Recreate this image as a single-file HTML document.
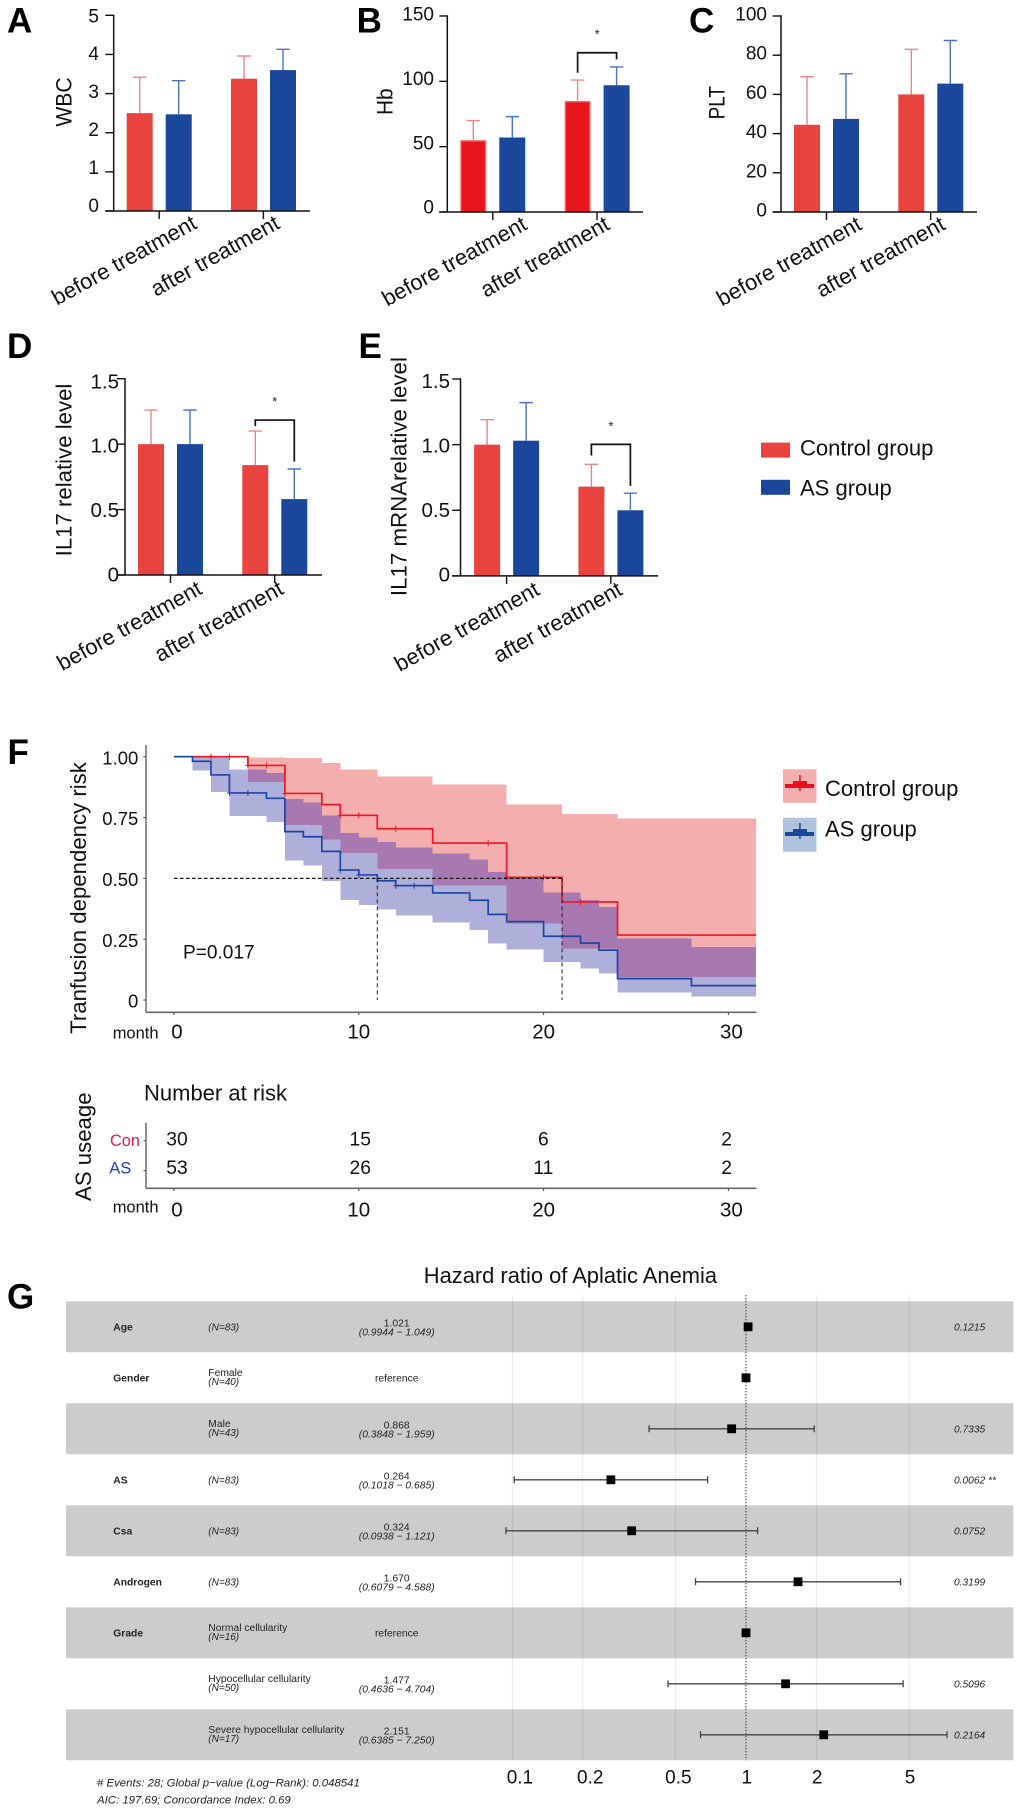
<!DOCTYPE html>
<html lang="en">
<head>
<meta charset="utf-8">
<title>Aplastic anemia figure</title>
<style>
html,body{margin:0;padding:0;background:#fff}
svg{display:block;font-family:"Liberation Sans",Arial,sans-serif}
</style>
</head>
<body>
<svg id="fig" xmlns="http://www.w3.org/2000/svg" width="1020" height="1811" viewBox="0 0 1020 1811">
<rect width="1020" height="1811" fill="#fff"/>
<g font-weight="bold" font-size="35" fill="#000">
<text x="7" y="32.3">A</text>
<text x="356.6" y="32.3">B</text>
<text x="689" y="32.3">C</text>
<text x="7" y="358">D</text>
<text x="358.5" y="358">E</text>
<text x="7.5" y="764">F</text>
<text x="7" y="1308.5">G</text>
</g>
<g>
<rect x="761" y="442.6" width="29" height="15" fill="#e94340"/>
<text x="800" y="455.5" font-size="22" fill="#111">Control group</text>
<rect x="761" y="479.8" width="29" height="15" fill="#1b479b"/>
<text x="800" y="495.5" font-size="22" fill="#111">AS group</text>
</g>
<g>
<rect x="783" y="769.3" width="33.5" height="33.5" fill="#f5aeae"/>
<rect x="785" y="784" width="29" height="4" fill="#e8101c"/>
<rect x="793" y="781" width="14" height="4" fill="#e8101c"/>
<rect x="799.2" y="775" width="1.5" height="16" fill="#e8101c"/>
<text x="825" y="796" font-size="22" fill="#111">Control group</text>
<rect x="783" y="817.7" width="33.5" height="34" fill="#afc4dc"/>
<rect x="785" y="832" width="29" height="4" fill="#1b479b"/>
<rect x="793" y="829" width="14" height="4" fill="#1b479b"/>
<rect x="799.2" y="823" width="1.5" height="16" fill="#1b479b"/>
<text x="825" y="836.7" font-size="22" fill="#111">AS group</text>
</g>
<g id="panels"></g>
<g id="km"></g>
<g id="risk"></g>
<g id="forest"></g>
</svg>
<script>
// ---- bar chart data ----
const categories = ['before treatment', 'after treatment'];
const wbcControl = [2.5, 3.38];
const wbcAS = [2.47, 3.6];
const wbcControlTop = [3.42, 3.96];
const wbcASTop = [3.33, 4.13];
const wbcTicks = [0, 1, 2, 3, 4, 5];
const hbControl = [55, 85];
const hbAS = [57, 97];
const hbControlTop = [70, 101];
const hbASTop = [73, 111];
const hbTicks = [0, 50, 100, 150];
const pltControl = [44.5, 60];
const pltAS = [47.5, 65.5];
const pltControlTop = [69, 83];
const pltASTop = [70.5, 87.5];
const pltTicks = [0, 20, 40, 60, 80, 100];
const il17Control = [1, 0.84];
const il17AS = [1, 0.58];
const il17ControlTop = [1.26, 1.1];
const il17ASTop = [1.26, 0.81];
const il17Ticks = [0, 0.5, 1.0, 1.5];
const il17TickLabels = ['0', '0.5', '1.0', '1.5'];
const mrnaControl = [1, 0.68];
const mrnaAS = [1.03, 0.5];
const mrnaControlTop = [1.19, 0.85];
const mrnaASTop = [1.32, 0.63];
const mrnaTicks = [0, 0.5, 1.0, 1.5];
const mrnaTickLabels = ['0', '0.5', '1.0', '1.5'];

// ---- survival data ----
const redTimes = [0, 4, 6, 8, 9, 11, 14, 18, 21, 24];
const redSurv = [1, 0.964, 0.849, 0.803, 0.759, 0.704, 0.645, 0.504, 0.403, 0.267];
const redUpper = [1, 0.997, 0.995, 0.975, 0.947, 0.918, 0.885, 0.804, 0.764, 0.747];
const redLower = [1, 0.896, 0.72, 0.66, 0.604, 0.538, 0.471, 0.314, 0.211, 0.095];
const redCensor = [2, 3, 4, 5, 6, 9, 10, 12, 17, 18, 20, 22];
const blueTimes = [0, 1, 2, 3, 5, 6, 7, 8, 9, 10, 11, 12, 14, 16, 17, 18, 20, 22, 23, 24, 28];
const blueSurv = [1, 0.981, 0.925, 0.851, 0.829, 0.692, 0.671, 0.611, 0.534, 0.514, 0.49, 0.47, 0.44, 0.41, 0.352, 0.322, 0.262, 0.234, 0.205, 0.088, 0.059];
const blueUpper = [1, 1, 1, 0.948, 0.934, 0.826, 0.811, 0.759, 0.686, 0.667, 0.649, 0.626, 0.603, 0.578, 0.526, 0.503, 0.441, 0.412, 0.382, 0.252, 0.218];
const blueLower = [1, 0.944, 0.855, 0.756, 0.732, 0.574, 0.552, 0.49, 0.412, 0.39, 0.371, 0.347, 0.318, 0.288, 0.232, 0.207, 0.156, 0.13, 0.108, 0.03, 0.015];
const blueCensor = [3, 4, 9, 10, 12, 13];
const kmXTicks = [0, 10, 20, 30];
const kmYTicks = [0, 0.25, 0.5, 0.75, 1];
const kmYTickLabels = ['0', '0.25', '0.50', '0.75', '1.00'];
const medianTimes = [11, 21];
const riskControl = [30, 15, 6, 2];
const riskAS = [53, 26, 11, 2];

// ---- forest data ----
const forestVars = ['Age', 'Gender', '', 'AS', 'Csa', 'Androgen', 'Grade', '', ''];
const forestLevels = ['', 'Female', 'Male', '', '', '', 'Normal cellularity', 'Hypocellular cellularity', 'Severe hypocellular cellularity'];
const forestN = ['(N=83)', '(N=40)', '(N=43)', '(N=83)', '(N=83)', '(N=83)', '(N=16)', '(N=50)', '(N=17)'];
const forestHR = [1.021, 1, 0.868, 0.264, 0.324, 1.67, 1, 1.477, 2.151];
const forestLow = [0.9944, null, 0.3848, 0.1018, 0.0938, 0.6079, null, 0.4636, 0.6385];
const forestHigh = [1.049, null, 1.959, 0.685, 1.121, 4.588, null, 4.704, 7.25];
const forestHRLabels = ['1.021', 'reference', '0.868', '0.264', '0.324', '1.670', 'reference', '1.477', '2.151'];
const forestCILabels = ['(0.9944 \u2212 1.049)', '', '(0.3848 \u2212 1.959)', '(0.1018 \u2212 0.685)', '(0.0938 \u2212 1.121)', '(0.6079 \u2212 4.588)', '', '(0.4636 \u2212 4.704)', '(0.6385 \u2212 7.250)'];
const forestP = ['0.1215', '', '0.7335', '0.0062 **', '0.0752', '0.3199', '', '0.5096', '0.2164'];
const forestTicks = [0.1, 0.2, 0.5, 1, 2, 5];

const NS = 'http://www.w3.org/2000/svg';
function mk(tag, attrs, parent, text) {
  const el = document.createElementNS(NS, tag);
  for (const k in attrs) el.setAttribute(k, attrs[k]);
  if (text !== undefined) el.textContent = text;
  parent.appendChild(el);
  return el;
}
const RED = '#e94340', BLUE = '#1b479b', RED_ERR = '#f08585', BLUE_ERR = '#4a72c4', INK = '#111';

function drawPanel(opt) {
  const root = document.getElementById('panels');
  const g = mk('g', {}, root);
  
  
  const y = v => opt.base - (v / opt.max) * (opt.base - opt.top);
  const offsets = [[0, 39], [104.3, 143.3]];
  categories.forEach((cat, i) => {
    [[opt.control, opt.controlTop, opt.red || RED, RED_ERR, 'control'], [opt.as, opt.asTop, BLUE, BLUE_ERR, 'as']].forEach((s, j) => {
      const left = opt.left + offsets[i][j];
      const cx = left + 13;
      const err = mk('path', {d: 'M' + cx + ' ' + y(s[0][i]) + 'V' + y(s[1][i]) + 'M' + (cx - 6.7) + ' ' + y(s[1][i]) + 'H' + (cx + 6.7), stroke: s[3], 'stroke-width': 1.4, fill: 'none'}, g);
      
      
      const inset = (opt.red && j === 0) ? 0.7 : 0;
      const bar = mk('rect', {x: left + inset, y: y(s[0][i]) + inset, width: 26 - 2 * inset, height: opt.base - y(s[0][i]) - inset, fill: s[2]}, g);
      
      
      if (inset) { bar.setAttribute('stroke', '#f06a6a'); bar.setAttribute('stroke-width', '1.4'); }
    });
    const tx = opt.left + (i === 0 ? 32.5 : 136.7);
    const tick = mk('line', {x1: tx, x2: tx, y1: opt.base, y2: opt.base + 8, stroke: INK, 'stroke-width': 1.4}, g);
    
    
    const ax = tx + opt.labelDx[i], ay = opt.base + opt.labelDy;
    const lab = mk('text', {x: ax, y: ay, 'text-anchor': 'end', 'font-size': 22, fill: INK, transform: 'rotate(-29 ' + ax + ' ' + ay + ')'}, g, cat);
    
    
  });
  const yAxis = mk('line', {x1: opt.axis, x2: opt.axis, y1: opt.top - 0.7, y2: opt.base, stroke: INK, 'stroke-width': 1.5}, g);
  
  
  const xAxis = mk('line', {x1: opt.axisLeft, x2: opt.right, y1: opt.base, y2: opt.base, stroke: INK, 'stroke-width': 1.5}, g);
  
  
  opt.ticks.forEach((t, i) => {
    const tk = mk('line', {x1: opt.axisLeft, x2: opt.axis, y1: y(t), y2: y(t), stroke: INK, 'stroke-width': 1.4}, g);
    
    
    const shift = opt.labShift[0] + (opt.labShift[1] - opt.labShift[0]) * t / opt.max;
    const tl = mk('text', {x: opt.labRight, y: y(t) + shift, 'text-anchor': 'end', 'font-size': opt.labSize, fill: INK}, g, opt.tickLabels ? opt.tickLabels[i] : String(t));
    
    
  });
  const tcx = opt.titleX, tcy = opt.titleY;
  const title = mk('text', {x: tcx, y: tcy, 'text-anchor': 'middle', 'font-size': 22, textLength: opt.titleLen, lengthAdjust: 'spacingAndGlyphs', fill: INK, transform: 'rotate(-90 ' + tcx + ' ' + tcy + ')'}, g, opt.title);
  
  
  if (opt.bracket) {
    const b = opt.bracket;
    const x1 = opt.left + 13 + 104.3, x2 = opt.left + 13 + 143.3;
    const br = mk('path', {d: 'M' + x1 + ' ' + y(b[1]) + 'V' + y(b[0]) + 'H' + x2 + 'V' + y(b[2]), fill: 'none', stroke: INK, 'stroke-width': 1.7}, g);
    
    
    const st = mk('text', {x: (x1 + x2) / 2, y: y(b[0]) - 14, 'text-anchor': 'middle', 'font-size': 13, fill: '#222'}, g, '*');
    
    
  }
}
drawPanel({id: 'wbc', title: 'WBC', titleX: 71.7, titleY: 102, titleLen: 49.3, axis: 113.7, axisLeft: 105.3, right: 310, top: 15.3, base: 211, max: 5, left: 126.7, labRight: 99, labShift: [1, 7], labSize: 19, labelDx: [39, 17.7], labelDy: 16.5, ticks: wbcTicks, control: wbcControl, as: wbcAS, controlTop: wbcControlTop, asTop: wbcASTop});
drawPanel({id: 'hb', title: 'Hb', titleX: 392.7, titleY: 101.7, titleLen: 26.7, axis: 447.3, axisLeft: 439.3, right: 643, top: 16, base: 212, max: 150, left: 460.3, labRight: 434, labShift: [1.7, 4.7], labSize: 19, labelDx: [35.6, 14], labelDy: 16.5, red: '#e8161c', ticks: hbTicks, control: hbControl, as: hbAS, controlTop: hbControlTop, asTop: hbASTop, bracket: [121.9, 106.6, 116.8]});
drawPanel({id: 'plt', title: 'PLT', titleX: 724.3, titleY: 102.7, titleLen: 33.3, axis: 781, axisLeft: 772.7, right: 977, top: 16, base: 212, max: 100, left: 794, labRight: 767, labShift: [4.5, 4.5], labSize: 19, labelDx: [36.6, 16], labelDy: 16.5, ticks: pltTicks, control: pltControl, as: pltAS, controlTop: pltControlTop, asTop: pltASTop});
drawPanel({id: 'il17', title: 'IL17 relative level', titleX: 71.7, titleY: 470, titleLen: 172.7, axis: 125, axisLeft: 116.7, right: 322, top: 378.7, base: 575, max: 1.5, left: 138, labRight: 119, labShift: [6.3, 9.7], labSize: 20.5, labelDx: [33, 10.3], labelDy: 18, ticks: il17Ticks, tickLabels: il17TickLabels, control: il17Control, as: il17AS, controlTop: il17ControlTop, asTop: il17ASTop, bracket: [1.184, 1.138, 0.866]});
drawPanel({id: 'il17-mrna', title: 'IL17 mRNArelative level', titleX: 406.5, titleY: 476.6, titleLen: 239, axis: 460.5, axisLeft: 452.2, right: 658.2, top: 379, base: 575.9, max: 1.5, left: 474.1, labRight: 450, labShift: [5.7, 8.8], labSize: 20.5, labelDx: [34.4, 13], labelDy: 18, ticks: mrnaTicks, tickLabels: mrnaTickLabels, control: mrnaControl, as: mrnaAS, controlTop: mrnaControlTop, asTop: mrnaASTop, bracket: [1.002, 0.917, 0.686]});

// ---- survival plot ----
const kmX = t => 174 + t * 18.48;
const kmY = v => 1000 - v * 243.3;
const KM_END = 31.5;
function stepPath(times, vals) {
  let d = 'M' + kmX(times[0]) + ' ' + kmY(vals[0]);
  for (let i = 1; i < times.length; i++) d += 'H' + kmX(times[i]) + 'V' + kmY(vals[i]);
  return d + 'H' + kmX(KM_END);
}
function valueAt(times, vals, t) {
  let v = vals[0];
  for (let i = 0; i < times.length; i++) if (times[i] <= t) v = vals[i];
  return v;
}
function drawKM() {
  const g = document.getElementById('km');
  
  
  const bands = mk('g', {'shape-rendering': 'crispEdges'}, g);
  
  
  redTimes.forEach((t, i) => {
    const e = i + 1 < redTimes.length ? redTimes[i + 1] : KM_END;
    const r = mk('rect', {x: kmX(t), y: kmY(redUpper[i]), width: kmX(e) - kmX(t), height: kmY(redLower[i]) - kmY(redUpper[i]), fill: '#f5aeae'}, bands);
    
    
  });
  blueTimes.forEach((t, i) => {
    const e = i + 1 < blueTimes.length ? blueTimes[i + 1] : KM_END;
    const r = mk('rect', {x: kmX(t), y: kmY(blueUpper[i]), width: kmX(e) - kmX(t), height: kmY(blueLower[i]) - kmY(blueUpper[i]), fill: '#aeb0d9'}, bands);
    
    
  });
  const cuts = Array.from(new Set(redTimes.concat(blueTimes))).sort((a, b) => a - b);
  cuts.forEach((t, i) => {
    const e = i + 1 < cuts.length ? cuts[i + 1] : KM_END;
    const top = Math.min(valueAt(redTimes, redUpper, t), valueAt(blueTimes, blueUpper, t));
    const bottom = Math.max(valueAt(redTimes, redLower, t), valueAt(blueTimes, blueLower, t));
    if (top > bottom) {
      const r = mk('rect', {x: kmX(t), y: kmY(top), width: kmX(e) - kmX(t), height: kmY(bottom) - kmY(top), fill: '#a779b0'}, bands);
      
      
    }
  });
  const red = mk('path', {d: stepPath(redTimes, redSurv), fill: 'none', stroke: '#ee1620', 'stroke-width': 1.7}, g);
  
  
  const blue = mk('path', {d: stepPath(blueTimes, blueSurv), fill: 'none', stroke: '#1d45a5', 'stroke-width': 1.7}, g);
  
  
  redCensor.forEach(t => {
    const v = valueAt(redTimes, redSurv, t);
    const m = mk('path', {d: 'M' + (kmX(t) - 2.5) + ' ' + kmY(v) + 'h5M' + kmX(t) + ' ' + (kmY(v) - 3) + 'v6', stroke: '#ee1620', 'stroke-width': 1, fill: 'none'}, g);
    
    
  });
  blueCensor.forEach(t => {
    const v = valueAt(blueTimes, blueSurv, t);
    const m = mk('path', {d: 'M' + (kmX(t) - 2.5) + ' ' + kmY(v) + 'h5M' + kmX(t) + ' ' + (kmY(v) - 3) + 'v6', stroke: '#1d45a5', 'stroke-width': 1, fill: 'none'}, g);
    
    
  });
  const h = mk('line', {x1: kmX(0), x2: kmX(medianTimes[1]), y1: kmY(0.5), y2: kmY(0.5), stroke: '#111', 'stroke-width': 1.2, 'stroke-dasharray': '3.5 2.5'}, g);
  
  
  medianTimes.forEach(t => {
    const v = mk('line', {x1: kmX(t), x2: kmX(t), y1: kmY(0.5), y2: kmY(0), stroke: '#222', 'stroke-width': 1, 'stroke-dasharray': '4 3'}, g);
    
    
  });
  const ya = mk('line', {x1: 146, x2: 146, y1: 745, y2: 1012.3, stroke: '#555', 'stroke-width': 1.3}, g);
  
  
  const xa = mk('line', {x1: 146, x2: 756.5, y1: 1012.3, y2: 1012.3, stroke: '#666', 'stroke-width': 1.6}, g);
  
  
  kmYTicks.forEach((v, i) => {
    const tk = mk('line', {x1: 143.3, x2: 146, y1: kmY(v), y2: kmY(v), stroke: '#444', 'stroke-width': 1}, g);
    
    
    const tl = mk('text', {x: 138.3, y: kmY(v) + 7.7, 'text-anchor': 'end', 'font-size': 18.5, fill: INK}, g, kmYTickLabels[i]);
    
    
  });
  kmXTicks.forEach(t => {
    const tk = mk('line', {x1: kmX(t), x2: kmX(t), y1: 1012.3, y2: 1015, stroke: '#444', 'stroke-width': 1}, g);
    
    
    const tl = mk('text', {x: kmX(t) + (t === 0 || t === 30 ? 3 : 0), y: 1038.5, 'text-anchor': 'middle', 'font-size': 20.5, fill: INK}, g, String(t));
    
    
  });
  const mo = mk('text', {x: 112.7, y: 1038.3, 'font-size': 16.5, fill: INK}, g, 'month');
  
  
  const yt = mk('text', {x: 86, y: 898, 'text-anchor': 'middle', 'font-size': 22.2, fill: INK, transform: 'rotate(-90 86 898)'}, g, 'Tranfusion dependency risk');
  
  
  const p = mk('text', {x: 183, y: 958.3, 'font-size': 19.1, fill: INK}, g, 'P=0.017');
  
  
}
drawKM();

function drawRisk() {
  const g = document.getElementById('risk');
  
  
  const riskX = t => 177 + 18.32 * t;
  const t0 = mk('text', {x: 144, y: 1100.7, 'font-size': 22, fill: INK}, g, 'Number at risk');
  
  
  const ya = mk('line', {x1: 146, x2: 146, y1: 1122.7, y2: 1188.3, stroke: '#555', 'stroke-width': 1.3}, g);
  
  
  const xa = mk('line', {x1: 146, x2: 756.5, y1: 1188.3, y2: 1188.3, stroke: '#666', 'stroke-width': 1.6}, g);
  
  
  const tk1 = mk('line', {x1: 143.5, x2: 146, y1: 1140.7, y2: 1140.7, stroke: '#444', 'stroke-width': 1}, g);
  
  
  const tk2 = mk('line', {x1: 143.5, x2: 146, y1: 1170.7, y2: 1170.7, stroke: '#444', 'stroke-width': 1}, g);
  
  
  const c = mk('text', {x: 110, y: 1146, 'font-size': 16.3, fill: '#e8174a'}, g, 'Con');
  
  
  const a = mk('text', {x: 109.3, y: 1173.3, 'font-size': 16.5, fill: '#2040a8'}, g, 'AS');
  
  
  kmXTicks.forEach((t, i) => {
    const n1 = mk('text', {x: riskX(t), y: 1145.7, 'text-anchor': 'middle', 'font-size': 19.3, fill: INK}, g, String(riskControl[i]));
    
    
    const n2 = mk('text', {x: riskX(t), y: 1174, 'text-anchor': 'middle', 'font-size': 19.3, fill: INK}, g, String(riskAS[i]));
    
    
    const tk = mk('line', {x1: kmX(t), x2: kmX(t), y1: 1188.3, y2: 1191, stroke: '#444', 'stroke-width': 1}, g);
    
    
    const tl = mk('text', {x: kmX(t) + (t === 0 || t === 30 ? 3 : 0), y: 1216.7, 'text-anchor': 'middle', 'font-size': 20.5, fill: INK}, g, String(t));
    
    
  });
  const mo = mk('text', {x: 112.7, y: 1212.3, 'font-size': 16.5, fill: INK}, g, 'month');
  
  
  const yt = mk('text', {x: 91, y: 1146.7, 'text-anchor': 'middle', 'font-size': 22.2, fill: INK, transform: 'rotate(-90 91 1146.7)'}, g, 'AS useage');
  
  
}
drawRisk();

// ---- forest plot ----
const fX = v => 746 + 233.6 * Math.log10(v);
function drawForest() {
  const g = document.getElementById('forest');
  
  
  const TOP = 1301.3, RH = 51;
  const title = mk('text', {x: 570.4, y: 1283, 'text-anchor': 'middle', 'font-size': 21.9, fill: INK}, g, 'Hazard ratio of Aplatic Anemia');
  
  
  forestHR.forEach((hr, i) => {
    if (i % 2 === 0) {
      const band = mk('rect', {x: 66, y: TOP + i * RH, width: 947.3, height: RH, fill: '#cccccc'}, g);
      
      
    }
  });
  forestTicks.forEach(t => {
    const gl = mk('line', {x1: fX(t), x2: fX(t), y1: 1295, y2: TOP + 9 * RH, stroke: '#000', 'stroke-width': 0.9, opacity: 0.09}, g);
    
    
    const tl = mk('text', {x: fX(t) + (t < 0.5 ? 7.5 : (t < 1 ? 2.7 : 0.8)), y: 1783.3, 'text-anchor': 'middle', 'font-size': 19, fill: INK}, g, String(t));
    
    
  });
  const ref = mk('line', {x1: fX(1), x2: fX(1), y1: 1295, y2: TOP + 9 * RH, stroke: '#333', 'stroke-width': 1, 'stroke-dasharray': '1.3 1.7'}, g);
  
  
  forestHR.forEach((hr, i) => {
    const cy = TOP + (i + 0.5) * RH;
    const fs = 10.3;
    if (forestVars[i]) {
      const v = mk('text', {x: 113.3, y: cy + 3.8, 'font-size': fs, 'font-weight': 'bold', fill: '#222'}, g, forestVars[i]);
      
      
    }
    if (forestLevels[i]) {
      const l = mk('text', {x: 208.3, y: cy - 1.6, 'font-size': fs, fill: '#222'}, g, forestLevels[i]);
      
      
    }
    const n = mk('text', {x: 208.3, y: forestLevels[i] ? cy + 7.4 : cy + 3.8, 'font-size': 10, 'font-style': 'italic', fill: '#222'}, g, forestN[i]);
    
    
    const hasCI = !!forestCILabels[i];
    const h = mk('text', {x: 396.7, y: hasCI ? cy - 0.3 : cy + 3.6, 'text-anchor': 'middle', 'font-size': fs, fill: '#222'}, g, forestHRLabels[i]);
    
    
    if (hasCI) {
      const ci = mk('text', {x: 396.7, y: cy + 8.5, 'text-anchor': 'middle', 'font-size': fs, 'font-style': 'italic', fill: '#222'}, g, forestCILabels[i]);
      
      
    }
    if (forestP[i]) {
      const p = mk('text', {x: 954, y: cy + 3.7, 'font-size': 10.2, 'font-style': 'italic', fill: '#222'}, g, forestP[i]);
      
      
    }
    if (forestLow[i] !== null && Math.abs(fX(forestHigh[i]) - fX(forestLow[i])) > 12) {
      const w = mk('path', {d: 'M' + fX(forestLow[i]) + ' ' + (cy - 3.5) + 'v7M' + fX(forestLow[i]) + ' ' + cy + 'H' + fX(forestHigh[i]) + 'M' + fX(forestHigh[i]) + ' ' + (cy - 3.5) + 'v7', stroke: '#444', 'stroke-width': 1.3, fill: 'none'}, g);
      
      
    }
    const s = mk('rect', {x: fX(hr) - 4.4, y: cy - 4.4, width: 8.8, height: 8.8, fill: '#000'}, g);
    
    
  });
  const f1 = mk('text', {x: 97, y: 1786.7, 'font-size': 11.4, 'font-style': 'italic', fill: '#222'}, g, '# Events: 28; Global p\u2212value (Log\u2212Rank): 0.048541');
  
  
  const f2 = mk('text', {x: 97, y: 1803.5, 'font-size': 11.4, 'font-style': 'italic', fill: '#222'}, g, 'AIC: 197.69; Concordance Index: 0.69');
  
  
}
drawForest();
</script>
</body>
</html>
